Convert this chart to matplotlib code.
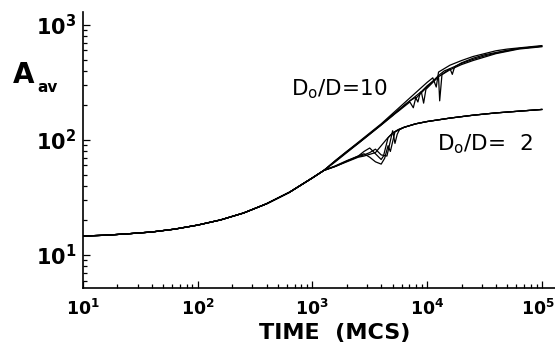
import matplotlib
matplotlib.use("Agg")
import matplotlib.pyplot as plt
import matplotlib.transforms as mtransforms
import numpy as np

plt.rcParams['font.family'] = ['DejaVu Sans']
plt.rcParams['mathtext.fontset'] = 'dejavusans'

# log10(time), log10(A_av)
early_logt = [1.0, 1.2, 1.4, 1.6, 1.8, 2.0, 2.2, 2.4, 2.6, 2.8, 3.0, 3.1]
early_logA = [1.165, 1.172, 1.185, 1.20, 1.225, 1.26, 1.305, 1.365, 1.445, 1.545, 1.67, 1.735]

# D0/D = 10 runs
d10_runs_t = [
    [3.2, 3.3, 3.4, 3.5, 3.6, 3.7, 3.8, 3.9, 3.95, 3.97, 3.99, 4.05, 4.1, 4.2, 4.3, 4.4, 4.5, 4.6, 4.7, 4.8, 4.9, 5.0],
    [3.2, 3.3, 3.4, 3.5, 3.6, 3.7, 3.8, 3.85, 3.9, 3.92, 3.94, 4.0, 4.1, 4.11, 4.13, 4.2, 4.3, 4.4, 4.5, 4.6, 4.7, 4.8, 4.9, 5.0],
    [3.2, 3.3, 3.4, 3.5, 3.6, 3.7, 3.75, 3.8, 3.85, 3.88, 3.9, 4.0, 4.1, 4.15, 4.2, 4.22, 4.24, 4.3, 4.4, 4.5, 4.6, 4.7, 4.8, 4.9, 5.0],
    [3.2, 3.3, 3.4, 3.5, 3.6, 3.7, 3.8, 3.9, 4.0, 4.05, 4.08, 4.1, 4.2, 4.3, 4.4, 4.5, 4.6, 4.7, 4.8, 4.9, 5.0],
]
d10_runs_A = [
    [1.81, 1.89, 1.97, 2.05, 2.13, 2.21, 2.30, 2.38, 2.42, 2.32, 2.44, 2.50, 2.55, 2.61, 2.655, 2.69, 2.72, 2.75, 2.77, 2.79, 2.80, 2.81],
    [1.82, 1.90, 1.975, 2.055, 2.135, 2.22, 2.30, 2.34, 2.37, 2.33, 2.41, 2.47, 2.55, 2.34, 2.57, 2.62, 2.665, 2.70, 2.73, 2.755, 2.775, 2.795, 2.805, 2.815],
    [1.815, 1.895, 1.97, 2.05, 2.13, 2.215, 2.25, 2.29, 2.33, 2.28, 2.36, 2.46, 2.56, 2.60, 2.62, 2.57, 2.635, 2.67, 2.71, 2.74, 2.76, 2.78, 2.795, 2.805, 2.815],
    [1.82, 1.90, 1.98, 2.06, 2.14, 2.23, 2.32, 2.41, 2.50, 2.54, 2.46, 2.59, 2.65, 2.69, 2.725, 2.75, 2.775, 2.79, 2.80, 2.81, 2.82],
]

# D0/D = 2 runs (glitch part), common tail after
d2_runs_t = [
    [3.2, 3.3, 3.4, 3.45, 3.5, 3.55, 3.6, 3.62, 3.66, 3.7, 3.75],
    [3.2, 3.3, 3.4, 3.45, 3.5, 3.55, 3.6, 3.63, 3.66, 3.68, 3.72, 3.76],
    [3.2, 3.3, 3.4, 3.45, 3.5, 3.55, 3.6, 3.65, 3.7, 3.72, 3.74, 3.76],
    [3.2, 3.3, 3.4, 3.45, 3.5, 3.55, 3.6, 3.65, 3.7, 3.75],
]
d2_runs_A = [
    [1.77, 1.815, 1.86, 1.90, 1.93, 1.88, 1.83, 1.86, 2.02, 2.06, 2.09],
    [1.775, 1.82, 1.86, 1.88, 1.85, 1.81, 1.79, 1.84, 1.95, 1.90, 2.07, 2.09],
    [1.77, 1.815, 1.855, 1.87, 1.89, 1.92, 1.87, 1.86, 2.08, 1.97, 2.05, 2.09],
    [1.77, 1.81, 1.85, 1.86, 1.875, 1.89, 1.95, 2.01, 2.06, 2.09],
]
d2_tail_logt = [3.8, 3.9, 4.0, 4.1, 4.2, 4.4, 4.6, 4.8, 5.0]
d2_tail_logA = [2.11, 2.14, 2.16, 2.175, 2.19, 2.215, 2.235, 2.25, 2.265]

x_ticks = [1e1, 1e2, 1e3, 1e4, 1e5]
x_labels = [r'$\mathdefault{10^{1}}$', r'$\mathdefault{10^{2}}$', r'$\mathdefault{10^{3}}$',
            r'$\mathdefault{10^{4}}$', r'$\mathdefault{10^{5}}$']
y_ticks = [1e1, 1e2, 1e3]
y_labels = [r'$\mathdefault{10^{1}}$', r'$\mathdefault{10^{2}}$', r'$\mathdefault{10^{3}}$']

fig = plt.figure(figsize=(5.55, 3.43), dpi=100)
ax = fig.add_axes([0.1495, 0.1603, 0.85, 0.805])

for lt, la in zip(d10_runs_t, d10_runs_A):
    x = 10 ** np.array(early_logt + lt)
    y = 10 ** np.array(early_logA + la)
    ax.plot(x, y, color='black', lw=0.9)

for lt, la in zip(d2_runs_t, d2_runs_A):
    x = 10 ** np.array(early_logt + lt + d2_tail_logt)
    y = 10 ** np.array(early_logA + la + d2_tail_logA)
    ax.plot(x, y, color='black', lw=0.9)

ax.set_xscale('log')
ax.set_yscale('log')
ax.set_xlim(10, 10 ** 5.113)
ax.set_ylim(10 ** 0.713, 10 ** 3.113)
ax.set_xticks(x_ticks, x_labels, fontsize=12.5, fontweight='bold')
ax.set_yticks(y_ticks, y_labels, fontsize=15, fontweight='bold')

for s in ['top', 'right']:
    ax.spines[s].set_visible(False)
for s in ['left', 'bottom']:
    ax.spines[s].set_linewidth(1.2)

ax.tick_params(which='both', direction='in', width=0.9)
ax.tick_params(which='major', length=5)
ax.tick_params(which='minor', length=3)
ax.tick_params(axis='y', pad=5)
ax.tick_params(axis='x', pad=8)

# last x label sits at the figure edge; nudge it left a little
last = ax.xaxis.get_major_ticks()[-1].label1
last.set_transform(last.get_transform() + mtransforms.ScaledTranslation(-4 / 100, 0, fig.dpi_scale_trans))

ax.text(650, 246, r'D$_\mathrm{o}$/D=10', fontsize=15.5, ha='left', va='baseline')
ax.text(12300, 81.8, r'D$_\mathrm{o}$/D=  2', fontsize=15.5, ha='left', va='baseline')

fig.text(13 / 555, 1 - 83 / 343, 'A', fontsize=20, fontweight='bold', ha='left', va='baseline')
fig.text(37 / 555, 1 - 92 / 343, 'av', fontsize=11, fontweight='bold', ha='left', va='baseline')
fig.text(335 / 555, 1 - 339 / 343, 'TIME  (MCS)', fontsize=16, fontweight='bold', ha='center', va='baseline')

fig.savefig('out.png', dpi=100)
